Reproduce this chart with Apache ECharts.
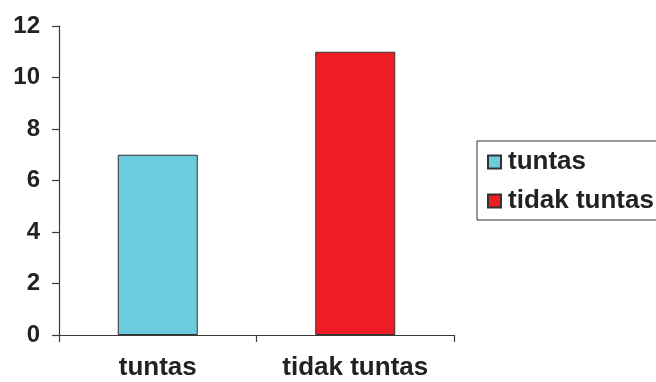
<!DOCTYPE html>
<html>
<head>
<meta charset="utf-8">
<script src="https://cdn.jsdelivr.net/npm/echarts@6/dist/echarts.min.js"></script>
<style>
  html, body { margin: 0; padding: 0; background: #fff; }
  #chart { width: 656px; height: 382px; }
</style>
</head>
<body>
<div id="chart"></div>
<script>
// Categories and values
const categories = ['tuntas', 'tidak tuntas'];
const seriesNames = ['tuntas', 'tidak tuntas'];
const values = [7, 11];
const colors = ['#6ccbdc', '#ee1c25'];
const yTicks = { min: 0, max: 12, step: 2 };

const FONT = '"Liberation Sans", Arial, sans-serif';
const textColor = '#222';
const axisColor = '#3a3a3a';

// One series per category so each gets its own legend entry,
// stacked so both bars sit centred in their category slot.
const series = seriesNames.map((name, i) => ({
  name: name,
  type: 'bar',
  stack: 'all',
  barWidth: 80,
  data: categories.map((c, j) => (j === i ? values[i] : '-')),
  itemStyle: { color: colors[i], borderColor: '#333', borderWidth: 1 }
}));

const chart = echarts.init(document.getElementById('chart'), null, { renderer: 'canvas' });
chart.setOption({
  animation: false,
  backgroundColor: '#fff',
  grid: { left: 59, right: 202, top: 26, bottom: 47, containLabel: false },
  legend: {
    orient: 'vertical',
    left: 477,
    top: 141,
    padding: [8, 30, 6, 10],
    borderColor: '#333',
    borderWidth: 1,
    itemWidth: 13,
    itemHeight: 13,
    itemGap: 13,
    icon: 'rect',
    data: seriesNames,
    textStyle: { fontFamily: FONT, fontSize: 26, fontWeight: 'bold', color: textColor, padding: [0, 0, 0, 2] }
  },
  xAxis: {
    type: 'category',
    data: categories,
    axisLine: { show: true, lineStyle: { color: axisColor, width: 1.2 } },
    axisTick: { show: true, length: 7, lineStyle: { color: axisColor, width: 1.2 } },
    axisLabel: { margin: 20, fontFamily: FONT, fontSize: 26, fontWeight: 'bold', color: textColor }
  },
  yAxis: {
    type: 'value',
    min: yTicks.min,
    max: yTicks.max,
    interval: yTicks.step,
    splitLine: { show: false },
    axisLine: { show: true, lineStyle: { color: axisColor, width: 1.2 } },
    axisTick: { show: true, length: 7, lineStyle: { color: axisColor, width: 1.2 } },
    axisLabel: { margin: 19, fontFamily: FONT, fontSize: 24, fontWeight: 'bold', color: textColor }
  },
  series: series
});
</script>
</body>
</html>
